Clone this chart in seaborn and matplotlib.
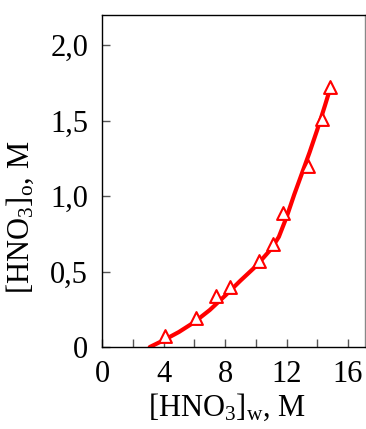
import matplotlib
matplotlib.use("Agg")
import matplotlib.pyplot as plt
import numpy as np
import seaborn as sns
from matplotlib.ticker import FuncFormatter, MultipleLocator

sns.set_theme(style="ticks")
plt.rcParams['font.family'] = ['Liberation Serif', 'DejaVu Serif']
plt.rcParams['mathtext.fontset'] = 'custom'
plt.rcParams['mathtext.rm'] = 'Liberation Serif'
plt.rcParams['mathtext.it'] = 'Liberation Serif:italic'

# experimental points
hno3_w = [4.1, 6.1, 7.4, 8.3, 10.2, 11.1, 11.8, 13.4, 14.3, 14.8]
hno3_o = [0.07, 0.19, 0.34, 0.40, 0.57, 0.68, 0.89, 1.20, 1.51, 1.72]

# fitted curve
curve_w = [3.1, 4.0, 5.0, 6.0, 7.0, 8.0, 9.0, 10.0, 11.0, 11.5, 12.0, 12.5,
           13.0, 13.5, 14.0, 14.5, 14.8]
curve_o = [0.0, 0.045, 0.10, 0.165, 0.245, 0.34, 0.44, 0.535, 0.65, 0.73,
           0.86, 1.01, 1.15, 1.29, 1.44, 1.60, 1.70]

fig = plt.figure(figsize=(3.66, 4.29), dpi=100)
ax = fig.add_axes([0.279, 0.191, 0.718, 0.774])

sns.lineplot(x=curve_w, y=curve_o, color='#ff0000', linewidth=3, ax=ax, sort=False)
sns.scatterplot(x=hno3_w, y=hno3_o, marker='^', s=85, facecolor='white',
                edgecolor='#ff0000', linewidth=1.5, ax=ax, zorder=3)

ax.set_xlim(0, 17.1)
ax.set_ylim(0, 2.2)
ax.xaxis.set_major_locator(MultipleLocator(4))
ax.xaxis.set_minor_locator(MultipleLocator(2))
ax.yaxis.set_major_locator(MultipleLocator(0.5))

def comma(v, pos):
    if abs(v) < 1e-9:
        return '0'
    return ('%.1f' % v).replace('.', ',')

ax.yaxis.set_major_formatter(FuncFormatter(comma))
ax.xaxis.set_major_formatter(FuncFormatter(lambda v, p: '%d' % v))

ax.tick_params(axis='both', which='both', direction='in', length=6, width=1,
               color='#555555', labelsize=22, labelcolor='black')
ax.tick_params(axis='x', which='major', pad=9)
ax.tick_params(axis='y', which='major', pad=10)
ax.tick_params(axis='y', which='minor', left=False)

for sp in ax.spines.values():
    sp.set_color('black')
    sp.set_linewidth(1)
ax.spines['right'].set_color('#888888')

ax.set_xlabel(r'[HNO$_3$]$_{\mathrm{w}}$, M', fontsize=22, color='black')
ax.set_ylabel(r'[HNO$_3$]$_{\mathrm{o}}$, M', fontsize=22, color='black')
ax.xaxis.set_label_coords(0.475, -0.135)
ax.yaxis.set_label_coords(-0.25, 0.39)

fig.savefig('out.png', dpi=100)
